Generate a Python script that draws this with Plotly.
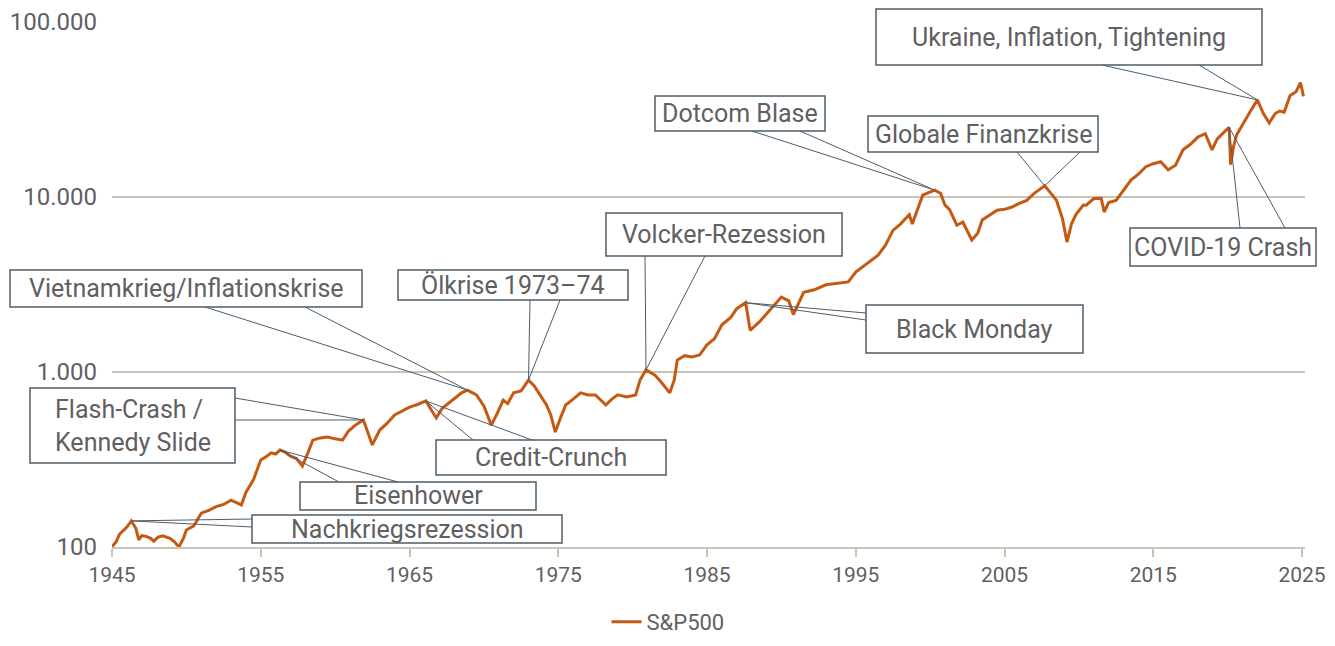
import plotly.graph_objects as go

years = [1945.0,1945.3,1945.5,1945.8,1946.0,1946.3,1946.6,1946.8,1947.0,1947.3,1947.6,1947.8,1948.1,1948.4,1948.7,1948.9,1949.2,1949.5,1949.8,1950.0,1950.5,1951.0,1951.5,1952.0,1952.5,1953.0,1953.7,1954.0,1954.5,1955.0,1955.4,1955.7,1956.0,1956.3,1956.6,1957.0,1957.4,1957.8,1958.2,1958.5,1959.0,1959.5,1960.0,1960.5,1960.9,1961.4,1961.9,1962.2,1962.5,1963.0,1963.5,1964.0,1964.5,1965.0,1965.5,1966.1,1966.5,1966.8,1967.2,1967.5,1968.0,1968.5,1968.9,1969.5,1970.0,1970.5,1970.9,1971.3,1971.6,1972.0,1972.5,1973.0,1973.4,1973.8,1974.2,1974.5,1974.8,1975.2,1975.5,1976.0,1976.5,1977.0,1977.5,1978.2,1978.6,1979.0,1979.6,1980.2,1980.5,1980.9,1981.5,1981.9,1982.5,1982.8,1983.0,1983.5,1984.0,1984.5,1985.0,1985.5,1986.0,1986.6,1987.0,1987.6,1987.9,1988.5,1989.0,1989.5,1990.0,1990.5,1990.8,1991.5,1992.2,1993.0,1993.8,1994.5,1995.0,1995.8,1996.5,1997.0,1997.5,1998.0,1998.6,1998.8,1999.5,2000.3,2000.7,2001.0,2001.3,2001.8,2002.2,2002.8,2003.2,2003.5,2004.0,2004.5,2005.0,2005.5,2006.0,2006.5,2007.0,2007.7,2008.0,2008.5,2008.9,2009.2,2009.5,2009.8,2010.3,2010.5,2011.0,2011.5,2011.7,2012.0,2012.5,2013.0,2013.5,2014.0,2014.5,2015.0,2015.5,2016.0,2016.5,2017.0,2017.5,2018.0,2018.5,2018.95,2019.3,2019.9,2020.1,2020.2,2020.4,2020.6,2021.0,2021.5,2022.0,2022.4,2022.8,2023.2,2023.5,2023.8,2024.2,2024.6,2024.9,2025.1]
values = [100,108,118,125,130,141,128,110,116,115,112,108,114,116,113,112,107,100,112,125,132,156,162,170,175,185,174,205,241,314,330,345,340,358,350,330,320,290,350,408,420,425,415,408,460,500,532,450,383,466,510,568,600,630,650,683,600,546,620,648,700,760,788,740,640,497,580,690,660,760,780,898,830,740,650,568,454,560,648,700,760,740,740,648,700,740,720,740,900,1028,960,880,760,900,1170,1240,1220,1250,1430,1550,1860,2050,2300,2490,1730,1925,2150,2420,2680,2550,2130,2850,2950,3150,3200,3270,3720,4200,4650,5300,6450,7000,7930,7000,10250,10950,10500,8980,8500,6900,7200,5680,6200,7380,7900,8400,8500,8770,9200,9560,10500,11600,10800,9560,7500,5530,7000,7930,9000,8980,9800,9830,8210,9300,9560,11000,12500,13500,14900,15500,15900,14300,15200,18600,20000,22000,23000,18600,21500,24100,25000,15300,19500,22600,26000,30600,35900,30000,26500,30000,31000,30500,38000,40000,45000,37600]

event_names = ["Nachkriegsrezession","Eisenhower","Flash-Crash /<br>Kennedy Slide","Credit-Crunch","Vietnamkrieg/Inflationskrise","Ölkrise 1973–74","Volcker-Rezession","Black Monday","Dotcom Blase","Globale Finanzkrise","COVID-19 Crash","Ukraine, Inflation, Tightening"]
event_years = [1946.3,1956.3,1961.9,1966.1,1968.9,1973.0,1980.9,1987.6,2000.3,2007.7,2020.1,2022.0]

OFF = 8  # page margin offset
boxes = [(252,515,562,543),(300,482,536,510),(30,388,235,463),(436,440,666,475),(10,270,362,307),(398,270,628,300),(606,213,842,256),(866,305,1083,353),(655,96,825,131),(868,116,1098,152),(1130,228,1316,266),(876,9,1262,65)]
starts = [[(252,519),(252,527)],[(339,482),(398,482)],[(235,398),(235,420)],[(473,440),(532,440)],[(205,307),(305,307)],[(530,300),(560,300)],[(645,256),(705,256)],[(866,313),(866,320)],[(752,131),(800,131)],[(1017,152),(1080,152)],[(1240,228),(1285,228)],[(1102,65),(1199,65)]]

W, H = 1335 - OFF, 646 - OFF
X0, X1, Y0, Y1 = 112, 1305, 22, 547
xr = [1945, 1945 + (X1 - X0) / 14.875]
yr = [2, 5]
def px2x(p): return xr[0] + (p - X0) / (X1 - X0) * (xr[1] - xr[0])
def py2y(p): return 10 ** (yr[1] - (p - Y0) / (Y1 - Y0) * (yr[1] - yr[0]))
def px_paper(p): return (p - X0) / (X1 - X0)
def py_paper(p): return (Y1 - p) / (Y1 - Y0)

col = "#C65911"
txt = "#5f6062"
bcol = "#4e5d68"
font = "Roboto, sans-serif"

fig = go.Figure()
fig.add_trace(go.Scatter(x=years, y=values, mode="lines", name="S&P500",
                         line=dict(color=col, width=3)))
shapes = []
anns = []
for name, ey, b, st in zip(event_names, event_years, boxes, starts):
    ev = values[years.index(ey)]
    for (sx, sy) in st:
        fig.add_trace(go.Scatter(x=[px2x(sx), ey], y=[py2y(sy), ev], mode="lines",
                                 line=dict(color=bcol, width=1), showlegend=False, hoverinfo="skip"))
    shapes.append(dict(type="rect", xref="paper", yref="paper",
                       x0=px_paper(b[0]), x1=px_paper(b[2]), y0=py_paper(b[3]), y1=py_paper(b[1]),
                       line=dict(color=bcol, width=1.5), fillcolor="white", layer="above"))
    anns.append(dict(xref="paper", yref="paper", x=px_paper((b[0]+b[2])/2), y=py_paper((b[1]+b[3])/2),
                     text=name, showarrow=False, font=dict(size=25, color=txt, family=font),
                     xanchor="center", yanchor="middle", align="left"))

fig.update_layout(
    width=W, height=H, margin=dict(l=X0-OFF, r=1335-X1, t=Y0-OFF, b=646-Y1, autoexpand=False),
    plot_bgcolor="white", paper_bgcolor="white",
    font=dict(family=font, color=txt, size=21),
    shapes=shapes, annotations=anns,
    showlegend=True,
    legend=dict(orientation="h", x=px_paper(668), xanchor="center", y=py_paper(622), yanchor="middle",
                font=dict(size=22, color=txt)),
    xaxis=dict(range=xr, tickvals=[1945,1955,1965,1975,1985,1995,2005,2015,2025], showgrid=False,
               showline=True, linecolor="#c8c4b8", linewidth=2, ticks="outside", ticklen=8,
               tickcolor="#c8c4b8", tickwidth=2, zeroline=False, tickfont=dict(size=21), automargin=False),
    yaxis=dict(type="log", range=yr, tickvals=[100,1000,10000,100000],
               ticktext=["100","1.000","10.000","100.000"], showgrid=True, gridcolor="#c8c4b8",
               gridwidth=2, zeroline=False, ticks="", tickfont=dict(size=24), automargin=False,
               ticklabelstandoff=14),
)
fig.write_html("out.html")
